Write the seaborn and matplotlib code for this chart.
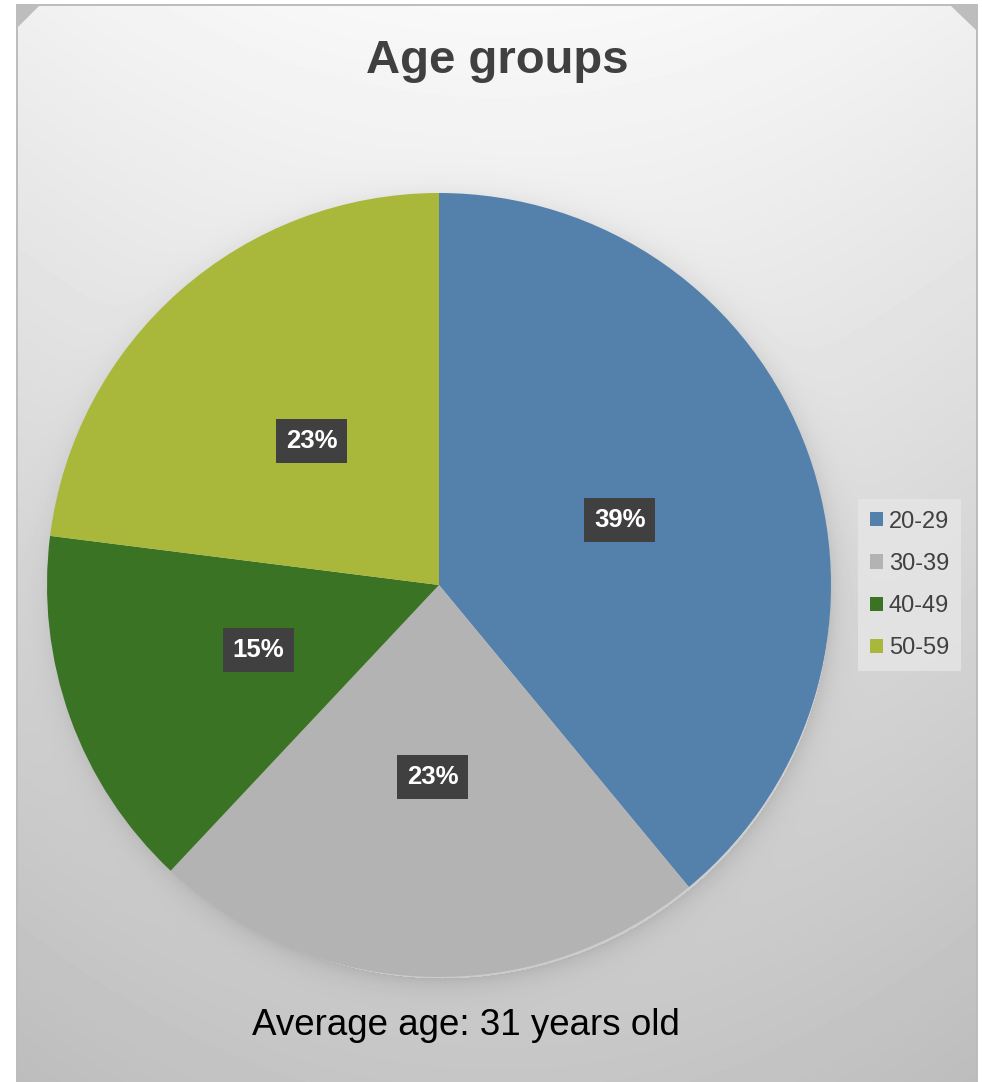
import numpy as np
import matplotlib
matplotlib.use("Agg")
import matplotlib.pyplot as plt
from matplotlib.patches import Polygon, Rectangle
import seaborn as sns

# Data
age_groups = ["20-29", "30-39", "40-49", "50-59"]
shares = [39, 23, 15, 23]
slice_colors = ["#5381AC", "#B3B3B3", "#3B7324", "#A9B83A"]
title_text = "Age groups"
footer_text = "Average age: 31 years old"

sns.set_theme(style="white")
plt.rcParams["font.family"] = ["Liberation Sans", "DejaVu Sans"]
palette = sns.color_palette(slice_colors)

W, H = 982, 1082
fig = plt.figure(figsize=(W / 100, H / 100), dpi=100)
fig.patch.set_facecolor("white")

# Background panel with a soft vertical gradient and a shadow ring around the pie
bg = fig.add_axes([0, 0, 1, 1])
bg.set_xlim(0, W)
bg.set_ylim(H, 0)
bg.axis("off")

cx, cy, r = 439, 585, 392
yy, xx = np.mgrid[0:H, 0:W].astype(float)
shade = 0.975 - 0.20 * (yy / H) - 0.035 * ((xx - 497) / 480) ** 2
d = np.hypot(xx - (cx + 3), yy - (cy + 5))
ring = np.where(d > r - 4, 0.09 * np.exp(-np.clip(d - r + 4, 0, None) / 12.0), 0.0)
shade = np.clip(shade - ring, 0, 1)

bg.add_patch(Rectangle((16, 4), 962, H - 4, facecolor="#BDBDBD", edgecolor="none", zorder=0))
panel = Polygon([(18, 27), (39, 6), (951, 6), (976, 30), (976, H), (18, H)],
                closed=True, facecolor="none", edgecolor="none")
bg.add_patch(panel)
im = bg.imshow(shade, cmap="gray", vmin=0, vmax=1, extent=(0, W, H, 0),
               interpolation="bilinear", zorder=1)
im.set_clip_path(panel)

# Pie
ax = fig.add_axes([(cx - r) / W, (H - cy - r) / H, 2 * r / W, 2 * r / H])
ax.set_facecolor("none")
wedges, texts, autotexts = ax.pie(
    shares, colors=palette, startangle=90, counterclock=False, radius=1,
    autopct="%.0f%%", pctdistance=0.49,
    wedgeprops=dict(linewidth=0),
    textprops=dict(color="white", fontsize=18.5, fontweight="bold"),
)
for t in autotexts:
    t.set_bbox(dict(boxstyle="square,pad=0.38", facecolor="#404040", edgecolor="none"))
ax.set_xlim(-1, 1)
ax.set_ylim(-1, 1)
ax.axis("off")

# Title and footer
fig.text(497 / W, 1 - 73 / H, title_text, ha="center", va="baseline",
         fontsize=34, fontweight="bold", color="#404040")
fig.text(466 / W, 1 - 1035 / H, footer_text, ha="center", va="baseline",
         fontsize=26.5, color="black")

# Legend
leg = fig.legend(wedges, age_groups, loc="center left",
                 bbox_to_anchor=(858 / W, 1 - 585 / H), fontsize=17,
                 frameon=True, fancybox=False, borderpad=0.5,
                 handlelength=0.55, handleheight=0.55, handletextpad=0.25,
                 labelspacing=0.86, borderaxespad=0)
leg.get_frame().set_facecolor("#E6E6E6")
leg.get_frame().set_edgecolor("none")
for t in leg.get_texts():
    t.set_color("#404040")

fig.savefig("out.png", dpi=100)
